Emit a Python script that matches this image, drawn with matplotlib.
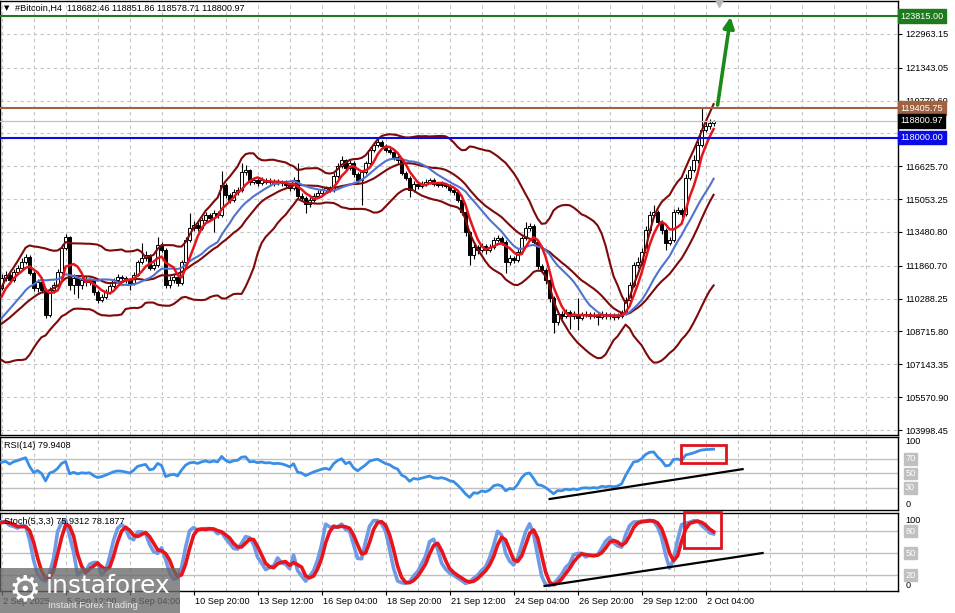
import matplotlib
matplotlib.use("Agg")
import matplotlib.pyplot as plt
import numpy as np
import pandas as pd
from matplotlib.patches import Rectangle
from matplotlib.transforms import blended_transform_factory as blend

plt.rcParams['font.family'] = ['Liberation Sans', 'DejaVu Sans']

# ---- data: #Bitcoin H4 ----
# bars before the first visible one, only used to warm up the indicators
warm_close = [108790, 108550, 108310, 108070, 108400, 108790, 108690, 108310, 108070, 108400,
              108790, 109030, 108880, 109170, 109360, 109030, 109510, 109980, 110320, 110800]
warm_high = [109050, 108900, 108650, 108400, 108520, 108900, 108950, 108780, 108420, 108500,
             108880, 109150, 109120, 109300, 109480, 109420, 109620, 110100, 110450, 110950]
warm_low = [108650, 108420, 108180, 107900, 107980, 108300, 108560, 108200, 107950, 107960,
            108320, 108700, 108750, 108800, 109060, 108920, 108960, 109420, 109880, 110220]

close = [111280, 111420, 111180, 111560, 111760, 112040, 112280, 111520, 110800, 111090,
         110700, 109510, 110700, 110940, 111560, 112710, 113240, 110940, 111280, 110940,
         111180, 111090, 111180, 110610, 110220, 110370, 110610, 110890, 111180, 111320,
         111280, 111180, 111040, 111420, 112040, 112230, 112380, 111760, 111900, 112860,
         112620, 110940, 111180, 111320, 111040, 112040, 113100, 113670, 113820, 113670,
         114050, 114290, 114150, 114390, 114290, 115730, 115250, 115010, 115400, 115490,
         116350, 116450, 115870, 115970, 115830, 115970, 115870, 115920, 115830, 115870,
         115830, 115730, 115590, 115970, 115200, 115110, 114820, 115010, 115200, 115350,
         115490, 115590, 115490, 116160, 116640, 116930, 116540, 116780, 116260, 115970,
         116350, 116780, 117410, 117650, 117790, 117600, 117410, 117310, 117070, 116930,
         116300, 116070, 115490, 115780, 115680, 115780, 115870, 115970, 115780, 115730,
         115780, 115680, 115490, 115400, 115010, 114440, 113480, 112380, 112760, 112620,
         112810, 112620, 112760, 113100, 113190, 113000, 112040, 112230, 112140, 112520,
         113190, 113670, 113770, 113000, 111850, 111660, 111180, 110320, 109170, 109550,
         109460, 109650, 109460, 109550, 109360, 109510, 109550, 109460, 109510, 109410,
         109550, 109460, 109510, 109410, 109460, 109600, 110220, 110940, 111900, 112040,
         112520, 113580, 114290, 114440, 113960, 113580, 112950, 113100, 114440, 114530,
         114340, 116070, 116450, 116930, 117650, 118360, 118560, 118682.46, 118800.97]

high = [111450, 111600, 111520, 111700, 111900, 112250, 112450, 112400, 111600, 111250,
        111200, 110800, 110850, 111100, 111700, 112900, 113400, 113300, 111450, 111400,
        111350, 111330, 111300, 111250, 110700, 110500, 110750, 111000, 111300, 111450,
        111420, 111350, 111250, 111550, 112150, 112950, 112550, 112450, 112050, 113240,
        113000, 112700, 111350, 111450, 111400, 112150, 113250, 114390, 114000, 113950,
        114200, 114450, 114400, 114550, 114500, 116400, 115850, 115350, 115550, 115650,
        116780, 116690, 116500, 116100, 116080, 116100, 116080, 116050, 116020, 116000,
        115980, 115950, 115850, 116100, 116780, 115350, 115200, 115150, 115350, 115480,
        115600, 115700, 115680, 116300, 116800, 117100, 117000, 116950, 116900, 116350,
        116450, 116900, 117550, 117800, 118030, 117900, 117700, 117500, 117400, 117150,
        117000, 116400, 116150, 115900, 115850, 115900, 116000, 116080, 116050, 115880,
        115900, 115850, 115780, 115580, 115480, 115100, 114550, 113550, 112900, 112850,
        112950, 112900, 112900, 113250, 113350, 113300, 113100, 112380, 112350, 112650,
        113300, 113960, 113900, 113850, 113100, 111950, 111750, 111250, 110400, 109700,
        109700, 109800, 109750, 109700, 110320, 109650, 109700, 109650, 109650, 109600,
        109700, 109650, 109620, 109600, 109600, 109750, 110350, 111100, 112050, 112300,
        112700, 113750, 114500, 114780, 114550, 114050, 113650, 113250, 114600, 114700,
        114650, 116250, 116650, 117150, 117850, 119405.75, 118950, 118900, 118851.86]

low = [110700, 111150, 111000, 111090, 111450, 111680, 111950, 111400, 110650, 110600,
       110550, 109360, 109420, 110560, 110850, 111450, 112600, 110700, 110500, 110320,
       110750, 110900, 110950, 110450, 110080, 110150, 110250, 110500, 110800, 111050,
       111150, 111050, 110700, 110950, 111350, 111950, 112100, 111650, 111650, 111800,
       112500, 110800, 110800, 111050, 110900, 110950, 111950, 113000, 113550, 113550,
       113580, 113950, 114000, 113480, 114150, 114200, 115100, 114850, 114900, 115250,
       115400, 116200, 115750, 115780, 115700, 115720, 115760, 115770, 115700, 115720,
       115700, 115600, 115450, 115480, 115100, 114950, 114390, 114700, 114900, 115100,
       115250, 115400, 115380, 115400, 116050, 116550, 116400, 116450, 116100, 115850,
       114770, 116250, 116700, 117300, 117550, 117480, 117300, 117200, 116950, 116800,
       116200, 115950, 115150, 115400, 115550, 115580, 115700, 115800, 115680, 115620,
       115620, 115580, 115380, 115250, 114900, 114300, 113300, 111900, 112200, 112450,
       112500, 112450, 112500, 112650, 113000, 112850, 111520, 111900, 112000, 112050,
       112450, 113100, 113550, 112900, 111700, 111500, 111000, 110150, 108640, 109020,
       109300, 109350, 108850, 109300, 108790, 109250, 109400, 109300, 109350, 109030,
       109300, 109320, 109330, 109250, 109300, 109350, 109500, 110100, 110850, 111750,
       111900, 112450, 113450, 114200, 113800, 113400, 112620, 112850, 113000, 114350,
       114150, 114250, 115950, 116350, 116800, 117550, 118250, 118400, 118578.71]

price_ticks = [122963.15, 121343.05, 119770.60, 118198.15, 116625.70, 115053.25, 113480.80,
               111860.70, 110288.25, 108715.80, 107143.35, 105570.90, 103998.45]
date_labels = ['2 Sep 2025', '5 Sep 12:00', '8 Sep 04:00', '10 Sep 20:00', '13 Sep 12:00',
               '16 Sep 04:00', '18 Sep 20:00', '21 Sep 12:00', '24 Sep 04:00', '26 Sep 20:00',
               '29 Sep 12:00', '2 Oct 04:00']
date_bars = [0, 16, 32, 48, 64, 80, 96, 112, 128, 144, 160, 176]

level_values = [123815.00, 119405.75, 118000.00]
level_colors = ['#1f7a1f', '#a0623f', '#0a0ae6']
bid = 118800.97

# ---- indicators ----
nw = len(warm_close)
c_all = pd.Series(warm_close + close, dtype=float)
h_all = pd.Series(warm_high + high, dtype=float)
l_all = pd.Series(warm_low + low, dtype=float)

bb_mid = c_all.rolling(20).mean()
bb_sd = c_all.rolling(20).std(ddof=0)
bb_up = bb_mid + 2 * bb_sd
bb_dn = bb_mid - 2 * bb_sd
ma_fast = c_all.rolling(5).mean()
ma_slow = c_all.rolling(14).mean()

d = c_all.diff()
avg_up = d.clip(lower=0).ewm(alpha=1 / 14, adjust=False).mean()
avg_dn = (-d.clip(upper=0)).ewm(alpha=1 / 14, adjust=False).mean()
rsi = 100 - 100 / (1 + avg_up / avg_dn)

ll = l_all.rolling(5).min()
hh = h_all.rolling(5).max()
st_main = 100 * (c_all - ll).rolling(3).sum() / (hh - ll).rolling(3).sum()
st_sig = st_main.rolling(3).mean()


def vis(s):
    return s.iloc[nw:].to_numpy()


x = np.arange(len(close))
o = np.array([warm_close[-1]] + close[:-1], dtype=float)
c = np.array(close, dtype=float)
hi = np.array(high, dtype=float)
lo = np.array(low, dtype=float)

# ---- figure ----
W, H = 955, 613
fig = plt.figure(figsize=(W / 100, H / 100), dpi=100)


def px_axes(x0, y0, x1, y1):
    return fig.add_axes([x0 / W, 1 - y1 / H, (x1 - x0) / W, (y1 - y0) / H])


ax = px_axes(0, 1, 898, 434.5)
ax_r = px_axes(0, 437, 898, 510)
ax_s = px_axes(0, 513, 898, 591)

FS = 6.6
grid_kw = dict(color='#c4c4c4', lw=0.8, ls=(0, (3, 3)), zorder=0)
for a in (ax, ax_r, ax_s):
    a.set_xlim(-0.4, 224.1)
    for gx in range(0, 225, 8):
        a.axvline(gx, **grid_kw)
    for sp in a.spines.values():
        sp.set_color('black')
        sp.set_linewidth(1.0)
    a.yaxis.tick_right()
    a.tick_params(axis='y', labelsize=FS, length=3, pad=2, width=0.8)
    a.set_xticks([])

# main panel
ax.set_ylim(103783, 124543)
for p in price_ticks:
    ax.axhline(p, **grid_kw)
ax.set_yticks(price_ticks)
# 118198.15 sits under the 118000.00 line label, so its text is left out
ax.set_yticklabels(['' if p == 118198.15 else '%.2f' % p for p in price_ticks])

up = c >= o
ax.vlines(x, lo, hi, color='black', lw=0.8, zorder=3)
body = np.maximum(np.abs(c - o), 15)
ax.bar(x[up], body[up], bottom=o[up], width=0.72, facecolor='white',
       edgecolor='black', lw=0.7, zorder=4)
ax.bar(x[~up], body[~up], bottom=c[~up], width=0.72, facecolor='black',
       edgecolor='black', lw=0.7, zorder=4)

for s in (bb_up, bb_mid, bb_dn):
    ax.plot(x, vis(s), color='#7d0a0a', lw=1.5, zorder=5)
ax.plot(x, vis(ma_slow), color='#4e74d0', lw=1.5, zorder=5)
ax.plot(x, vis(ma_fast), color='#e8141c', lw=1.8, zorder=6)

ax.axhline(bid, color='#c0c0c0', lw=0.9, zorder=6)
for v, col in zip(level_values, level_colors):
    ax.axhline(v, color=col, lw=1.5, zorder=7)

ytr = blend(ax.transAxes, ax.transData)
box_kw = dict(transform=ytr, ha='left', va='center', fontsize=FS, color='white',
              clip_on=False, zorder=10)
for v, col in zip(level_values, level_colors):
    ax.text(1.003, v, '%.2f' % v,
            bbox=dict(boxstyle='square,pad=0.25', fc=col, ec=col), **box_kw)
ax.text(1.003, bid, '%.2f' % bid,
        bbox=dict(boxstyle='square,pad=0.25', fc='black', ec='black'), **box_kw)

ax.annotate('', xy=(182.25, 123780), xytext=(179.0, 119560),
            arrowprops=dict(arrowstyle='-|>', color='#1a8a1a', lw=2.6,
                            mutation_scale=16, shrinkA=0, shrinkB=0), zorder=8)
ax.plot([179.25], [124450], marker='v', color='#b8b8b8', ms=6, clip_on=False, zorder=8)

fig.text(4 / W, 1 - 8 / H, '\u25bc', fontsize=5, va='center', family='DejaVu Sans')
fig.text(15 / W, 1 - 8 / H, '#Bitcoin,H4  118682.46 118851.86 118578.71 118800.97',
         fontsize=FS, va='center')

# RSI panel
ax_r.set_ylim(-0.7, 100.4)
ax_r.set_yticks([])
for lv in (70, 50, 30):
    ax_r.axhline(lv, color='#c0c0c0', lw=1.0, zorder=1)
ax_r.plot(x, vis(rsi), color='#3a8ee6', lw=2.0, zorder=4)
rtr = blend(ax_r.transAxes, ax_r.transData)
ax_r.text(1.008, 100, '100', transform=rtr, fontsize=FS, va='top', clip_on=False)
ax_r.text(1.008, 0, '0', transform=rtr, fontsize=FS, va='bottom', clip_on=False)
for lv in (70, 50, 30):
    ax_r.text(1.008, lv, str(lv), transform=rtr, fontsize=FS, va='center', color='white',
              clip_on=False, bbox=dict(boxstyle='square,pad=0.15', fc='#c0c0c0', ec='#c0c0c0'))
ax_r.text(0.004, 0.89, 'RSI(14) 79.9408', transform=ax_r.transAxes, fontsize=FS, va='center')
ax_r.plot([137, 185.25], [14.5, 55.9], color='black', lw=1.6, zorder=5, clip_on=False)
ax_r.add_patch(Rectangle((169.75, 64), 11.25, 25, fill=False, ec='#e0141c', lw=2.0, zorder=6))

# Stochastic panel
ax_s.set_ylim(-1.8, 104.6)
ax_s.set_yticks([])
for lv in (80, 50, 20):
    ax_s.axhline(lv, color='#c0c0c0', lw=1.0, zorder=1)
ax_s.plot(x, vis(st_main), color='#6f9be6', lw=2.6, zorder=4)
ax_s.plot(x, vis(st_sig), color='#e8141c', lw=2.6, zorder=5)
stf = blend(ax_s.transAxes, ax_s.transData)
ax_s.text(1.008, 100, '100', transform=stf, fontsize=FS, va='top', clip_on=False)
ax_s.text(1.008, 0, '0', transform=stf, fontsize=FS, va='bottom', clip_on=False)
for lv in (80, 50, 20):
    ax_s.text(1.008, lv, str(lv), transform=stf, fontsize=FS, va='center', color='white',
              clip_on=False, bbox=dict(boxstyle='square,pad=0.15', fc='#c0c0c0', ec='#c0c0c0'))
ax_s.text(0.004, 0.885, 'Stoch(5,3,3) 75.9312 78.1877', transform=ax_s.transAxes,
          fontsize=FS, va='center', zorder=7)
ax_s.plot([135.75, 190.25], [5, 50], color='black', lw=1.6, zorder=6, clip_on=False)
ax_s.add_patch(Rectangle((170.5, 57), 9.25, 49, fill=False, ec='#e0141c', lw=2.0,
                         zorder=7, clip_on=False))

ax_s.set_xticks(date_bars)
ax_s.set_xticklabels([])
ax_s.tick_params(axis='x', length=3, width=0.8)
xtr = blend(ax_s.transData, ax_s.transAxes)
for b, lbl in zip(date_bars, date_labels):
    ax_s.text(b + 0.3, -0.13, lbl, transform=xtr, fontsize=FS, ha='left', va='center',
              clip_on=False)

# watermark
fig.add_artist(Rectangle((0, 0), 180 / W, 45 / H, transform=fig.transFigure,
                         fc='#6a6a6a', ec='none', alpha=0.78, zorder=20))
fig.text(25 / W, 1 - 590 / H, '\u2699', fontsize=26, color='white', ha='center',
         va='center', zorder=21, family='DejaVu Sans')
fig.text(46 / W, 1 - 586 / H, 'instaforex', fontsize=18, color='white', ha='left',
         va='center', zorder=21, family='DejaVu Sans')
fig.text(48 / W, 1 - 606 / H, 'Instant Forex Trading', fontsize=6.8, color='#e8e8e8',
         ha='left', va='center', zorder=21)

fig.savefig('out.png', dpi=100)
